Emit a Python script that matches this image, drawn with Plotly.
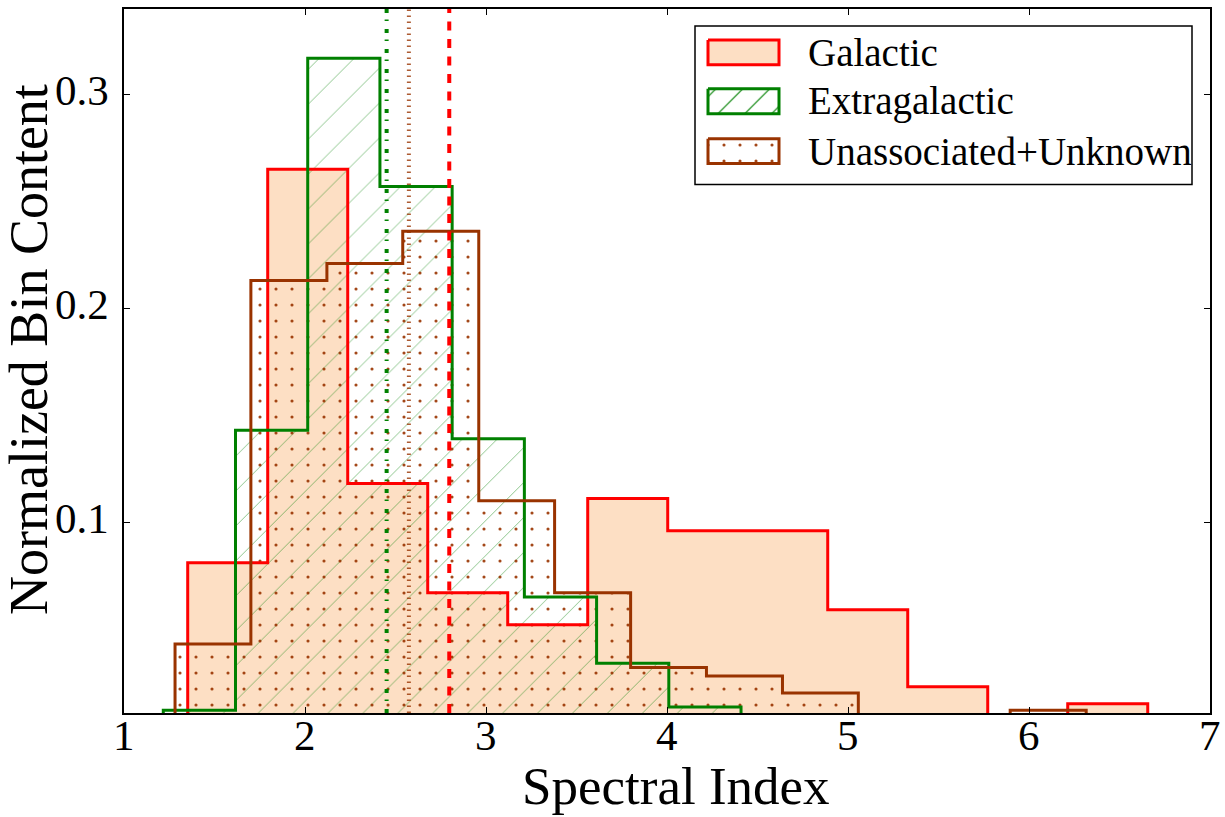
import plotly.graph_objects as go

# Histogram bin edges and normalized bin contents for each source class
gal_edges = [1.352, 1.794, 2.236, 2.678, 3.120, 3.562, 4.004, 4.446, 4.888, 5.330, 5.772, 6.214, 6.656]
gal_counts = [0.081, 0.265, 0.118, 0.067, 0.052, 0.111, 0.096, 0.096, 0.059, 0.023, 0.0, 0.015]

egal_edges = [1.217, 1.616, 2.015, 2.414, 2.813, 3.212, 3.611, 4.010, 4.409]
egal_counts = [0.012, 0.143, 0.317, 0.257, 0.139, 0.065, 0.034, 0.0135]

unas_edges = [1.282, 1.701, 2.121, 2.540, 2.960, 3.379, 3.799, 4.218, 4.638, 5.057, 5.477, 5.896, 6.316]
unas_counts = [0.043, 0.213, 0.221, 0.236, 0.110, 0.067, 0.032, 0.028, 0.020, 0.0, 0.0, 0.012]

# Mean spectral index of each class
gal_mean = 2.797
egal_mean = 2.451
unas_mean = 2.574

labels = ["Galactic", "Extragalactic", "Unassociated+Unknown"]
x_ticks = [1, 2, 3, 4, 5, 6, 7]
y_ticks = [0.1, 0.2, 0.3]

RED = "#FF0000"
GREEN = "#008000"
BROWN = "#993300"
PEACH = "#FDDFC4"
FONT = "Liberation Serif"

# figure geometry (pixels)
W, H = 1225, 817
ML, MR, MT, MB = 124, 15, 7, 104
PW, PH = W - ML - MR, H - MT - MB


def px_x(p):
    return (p - ML) / PW


def px_y(p):
    return (H - MB - p) / PH


def step_outline(edges, counts):
    xs, ys = [edges[0]], [0.0]
    for i, c in enumerate(counts):
        xs += [edges[i], edges[i + 1]]
        ys += [c, c]
    xs.append(edges[-1])
    ys.append(0.0)
    return xs, ys


fig = go.Figure()

series = [
    (gal_edges, gal_counts, RED),
    (egal_edges, egal_counts, GREEN),
    (unas_edges, unas_counts, BROWN),
]

hatch = go.scatter.Fillpattern(shape="/", fgcolor=GREEN, bgcolor="rgba(0,0,0,0)",
                               fillmode="replace", size=24.7, solidity=0.04, fgopacity=0.45)
dots = go.scatter.Fillpattern(shape=".", fgcolor=BROWN, bgcolor="rgba(0,0,0,0)",
                              fillmode="replace", size=16, solidity=0.03, fgopacity=0.9)

# filled areas first
gx, gy = step_outline(gal_edges, gal_counts)
fig.add_trace(go.Scatter(x=gx, y=gy, mode="lines", line=dict(width=0), fill="toself",
                         fillcolor=PEACH, hoverinfo="skip"))
ex, ey = step_outline(egal_edges, egal_counts)
fig.add_trace(go.Scatter(x=ex, y=ey, mode="lines", line=dict(width=0), fill="toself",
                         fillcolor="rgba(0,0,0,0)", fillpattern=hatch, hoverinfo="skip"))
ux, uy = step_outline(unas_edges, unas_counts)
fig.add_trace(go.Scatter(x=ux, y=uy, mode="lines", line=dict(width=0), fill="toself",
                         fillcolor="rgba(0,0,0,0)", fillpattern=dots, hoverinfo="skip"))

# step outlines on top
for edges, counts, color in series:
    sx, sy = step_outline(edges, counts)
    fig.add_trace(go.Scatter(x=sx, y=sy, mode="lines", line=dict(color=color, width=3),
                             hoverinfo="skip"))

# mean markers
for m, color, dash, width in [
    (egal_mean, GREEN, "4px,8px,1.5px,6.5px", 4),
    (unas_mean, "rgba(153,51,0,0.8)", "1.5px,4.5px", 4),
    (gal_mean, RED, "9px,8.5px", 4),
]:
    fig.add_shape(type="line", xref="x", yref="paper", x0=m, x1=m, y0=0, y1=1,
                  line=dict(color=color, width=width, dash=dash), layer="above")

# legend drawn on a pixel-space overlay
box_x0, box_x1 = 708, 779
rows = [(38, 63), (87, 112), (137, 162)]
patch_styles = [
    dict(fillcolor=PEACH, line=dict(color=RED, width=3)),
    dict(fillcolor="rgba(0,0,0,0)", fillpattern=go.scatter.Fillpattern(
        shape="/", fgcolor=GREEN, bgcolor="rgba(0,0,0,0)", fillmode="replace",
        size=19, solidity=0.06), line=dict(color=GREEN, width=3)),
    dict(fillcolor="rgba(0,0,0,0)", fillpattern=dots, line=dict(color=BROWN, width=3)),
]
for (y0, y1), style, text in zip(rows, patch_styles, labels):
    fig.add_trace(go.Scatter(x=[box_x0, box_x1, box_x1, box_x0, box_x0],
                             y=[y0, y0, y1, y1, y0], mode="lines", fill="toself",
                             xaxis="x2", yaxis="y2", hoverinfo="skip", **style))
    fig.add_annotation(x=806, y=(y0 + y1) / 2, xref="x2", yref="y2", text=text,
                       showarrow=False, xanchor="left", yanchor="middle",
                       font=dict(family=FONT, size=39, color="black"))
fig.add_shape(type="rect", xref="x2", yref="y2", x0=695, x1=1192, y0=24, y1=183,
              line=dict(color="black", width=1.5), fillcolor="rgba(0,0,0,0)", layer="above")

# tick labels
tick_font = dict(family=FONT, size=43, color="black")
for v in x_ticks:
    fig.add_annotation(x=v, y=px_y(736), xref="x", yref="paper", text=str(v),
                       showarrow=False, xanchor="center", yanchor="middle", font=tick_font)
for v in y_ticks:
    fig.add_annotation(x=px_x(111), y=v, xref="paper", yref="y", text=f"{v:.1f}",
                       showarrow=False, xanchor="right", yanchor="middle", yshift=4,
                       font=tick_font)

# axis titles
fig.add_annotation(x=px_x(676), y=px_y(786), xref="paper", yref="paper",
                   text="Spectral Index", showarrow=False, xanchor="center", yanchor="middle",
                   font=dict(family=FONT, size=53, color="black"))
fig.add_annotation(x=px_x(29), y=px_y(349), xref="paper", yref="paper",
                   text="Normalized Bin Content", showarrow=False, textangle=-90,
                   xanchor="center", yanchor="middle",
                   font=dict(family=FONT, size=54, color="black"))

axis_common = dict(showline=True, linecolor="black", linewidth=1.5, mirror="ticks",
                   ticks="inside", ticklen=6, tickwidth=1.2, tickcolor="black",
                   showgrid=False, zeroline=False, showticklabels=False)

fig.update_layout(
    width=W, height=H,
    margin=dict(l=ML, r=MR, t=MT, b=MB),
    plot_bgcolor="white", paper_bgcolor="white",
    showlegend=False,
    font=dict(family=FONT, color="black"),
    xaxis=dict(range=[1, 7], tickvals=x_ticks, **axis_common),
    yaxis=dict(range=[0.0107, 0.340], tickvals=y_ticks, **axis_common),
    xaxis2=dict(overlaying="x", anchor="y2", range=[ML, W - MR], visible=False,
                fixedrange=True),
    yaxis2=dict(overlaying="y", anchor="x2", range=[H - MB, MT], visible=False,
                fixedrange=True),
)

fig.write_html("out.html")
